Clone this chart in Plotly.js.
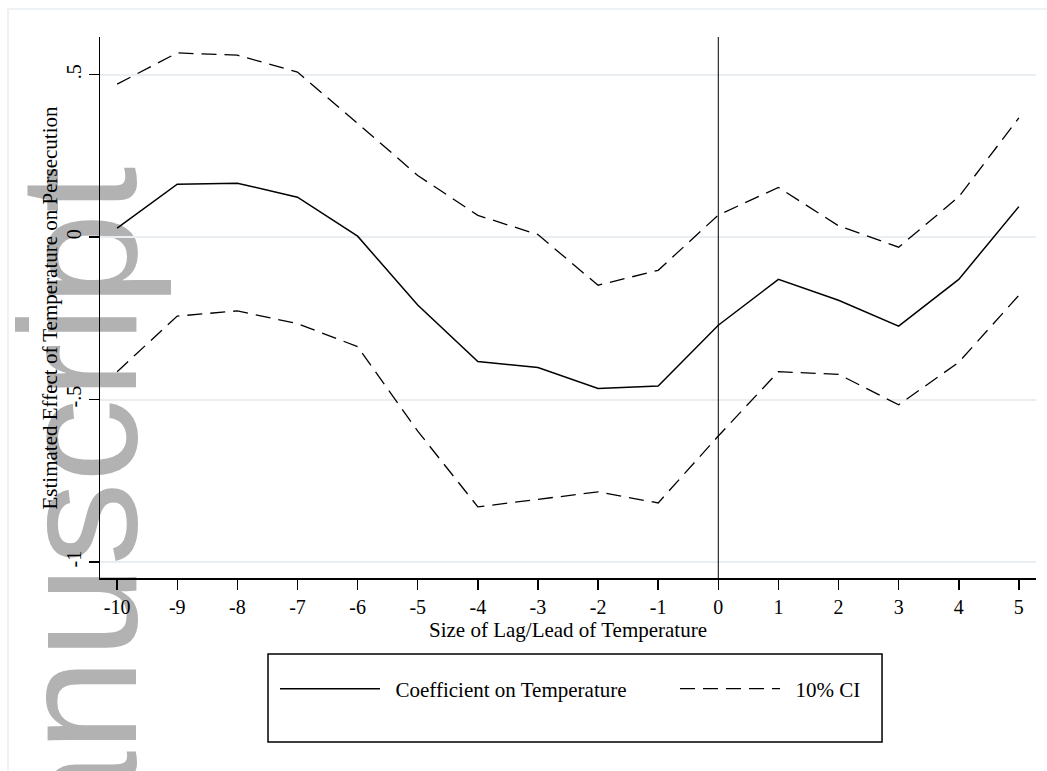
<!DOCTYPE html>
<html>
<head>
<meta charset="utf-8">
<script src="https://cdn.plot.ly/plotly-3.0.1.min.js"></script>
<style>
  html, body { margin: 0; padding: 0; background: #ffffff; }
  #chart { width: 1047px; height: 771px; }
</style>
</head>
<body>
<div id="chart"></div>
<script>
// ---- data ----
var lags = [-10, -9, -8, -7, -6, -5, -4, -3, -2, -1, 0, 1, 2, 3, 4, 5];
var coefficient = [0.028, 0.163, 0.166, 0.123, 0.003, -0.209, -0.383, -0.401, -0.466, -0.458, -0.271, -0.130, -0.194, -0.274, -0.130, 0.094];
var ciUpper = [0.471, 0.567, 0.560, 0.508, 0.350, 0.190, 0.067, 0.008, -0.148, -0.102, 0.068, 0.153, 0.035, -0.031, 0.124, 0.367];
var ciLower = [-0.414, -0.243, -0.227, -0.266, -0.337, -0.597, -0.830, -0.808, -0.784, -0.818, -0.612, -0.414, -0.422, -0.516, -0.385, -0.179];

var yTickVals = [-1, -0.5, 0, 0.5];
var yTickText = ['-1', '-.5', '0', '.5'];
var xTickVals = lags;
var xTickText = lags.map(String);

var seriesNames = ['Coefficient on Temperature', '10% CI'];
var xTitle = 'Size of Lag/Lead of Temperature';
var yTitle = 'Estimated Effect of Temperature on Persecution';
var watermark = 'Manuscript';

var FONT = 'Liberation Serif';
var dashPattern = '15px,8px';
var PAD = '\u00a0\u00a0'; // small gap between legend sample and its text

var traces = [
  { x: lags, y: coefficient, type: 'scatter', mode: 'lines', name: PAD + seriesNames[0],
    line: { color: '#000000', width: 1.5 }, legend: 'legend', showlegend: true },
  { x: lags, y: ciUpper, type: 'scatter', mode: 'lines', name: PAD + seriesNames[1],
    line: { color: '#000000', width: 1.3, dash: dashPattern }, legend: 'legend2', showlegend: true },
  { x: lags, y: ciLower, type: 'scatter', mode: 'lines', name: PAD + seriesNames[1],
    line: { color: '#000000', width: 1.3, dash: dashPattern }, legend: 'legend2', showlegend: false }
];

var legendCommon = {
  orientation: 'v', bgcolor: 'rgba(0,0,0,0)', borderwidth: 0,
  font: { family: FONT, size: 21, color: '#000000' },
  itemwidth: 100, xanchor: 'left', yanchor: 'middle', tracegroupgap: 0
};

var layout = {
  width: 1047, height: 771,
  margin: { l: 100, r: 11, t: 37, b: 193, pad: 0 },
  paper_bgcolor: '#ffffff',
  plot_bgcolor: 'rgba(0,0,0,0)',
  font: { family: FONT, size: 20, color: '#000000' },
  hovermode: false,
  showlegend: true,
  legend: Object.assign({}, legendCommon, { x: 0.187, y: -0.2052 }),
  legend2: Object.assign({}, legendCommon, { x: 0.6143, y: -0.2052 }),
  xaxis: {
    range: [-10.285, 5.285], autorange: false,
    tickmode: 'array', tickvals: xTickVals, ticktext: xTickText,
    ticks: 'outside', ticklen: 10, tickwidth: 1.5, tickcolor: '#000000',
    showline: true, linecolor: '#000000', linewidth: 1.5,
    showgrid: false, zeroline: false,
    tickfont: { family: FONT, size: 20, color: '#000000' }
  },
  yaxis: {
    range: [-1.049, 0.616], autorange: false,
    tickmode: 'array', tickvals: yTickVals, ticktext: yTickText,
    tickangle: -90,
    ticks: 'outside', ticklen: 10, tickwidth: 1.5, tickcolor: '#000000',
    showline: true, linecolor: '#000000', linewidth: 1.5,
    showgrid: true, gridcolor: '#e8eef1', gridwidth: 2,
    zeroline: false,
    tickfont: { family: FONT, size: 20, color: '#000000' }
  },
  shapes: [
    // outer graph-region border (light)
    { type: 'rect', xref: 'paper', yref: 'paper', x0: -0.0983, x1: 1.02, y0: -0.40, y1: 1.0518,
      line: { color: '#e9eef1', width: 1.5 }, fillcolor: 'rgba(0,0,0,0)', layer: 'below' },
    // watermark
    { type: 'rect', xref: 'paper', yref: 'paper', x0: -0.0906, x1: 0.0094, y0: -0.3, y1: 0.311,
      line: { width: 0 }, fillcolor: 'rgba(0,0,0,0)', layer: 'below',
      label: { text: watermark, textangle: -90, textposition: 'middle center',
               font: { family: 'Liberation Sans', size: 167, color: '#b2b2b2' } } },
    // vertical reference line at 0
    { type: 'line', xref: 'x', yref: 'paper', x0: 0, x1: 0, y0: 0, y1: 1,
      line: { color: '#000000', width: 1 } },
    // legend frame
    { type: 'rect', xref: 'paper', yref: 'paper', x0: 0.1795, x1: 0.8355, y0: -0.3031, y1: -0.1405,
      line: { color: '#000000', width: 1.5 }, fillcolor: 'rgba(0,0,0,0)' }
  ],
  annotations: [
    { text: xTitle, xref: 'paper', yref: 'paper', x: (568 - 100) / 936, y: (578 - 630) / 541,
      xanchor: 'center', yanchor: 'middle', showarrow: false,
      font: { family: FONT, size: 21, color: '#000000' } },
    { text: yTitle, xref: 'paper', yref: 'paper', x: (49 - 100) / 936, y: (578 - 307.5) / 541,
      xanchor: 'center', yanchor: 'middle', showarrow: false, textangle: -90,
      font: { family: FONT, size: 21, color: '#000000' } }
  ]
};

Plotly.newPlot('chart', traces, layout, { displayModeBar: false, staticPlot: true });
</script>
</body>
</html>
